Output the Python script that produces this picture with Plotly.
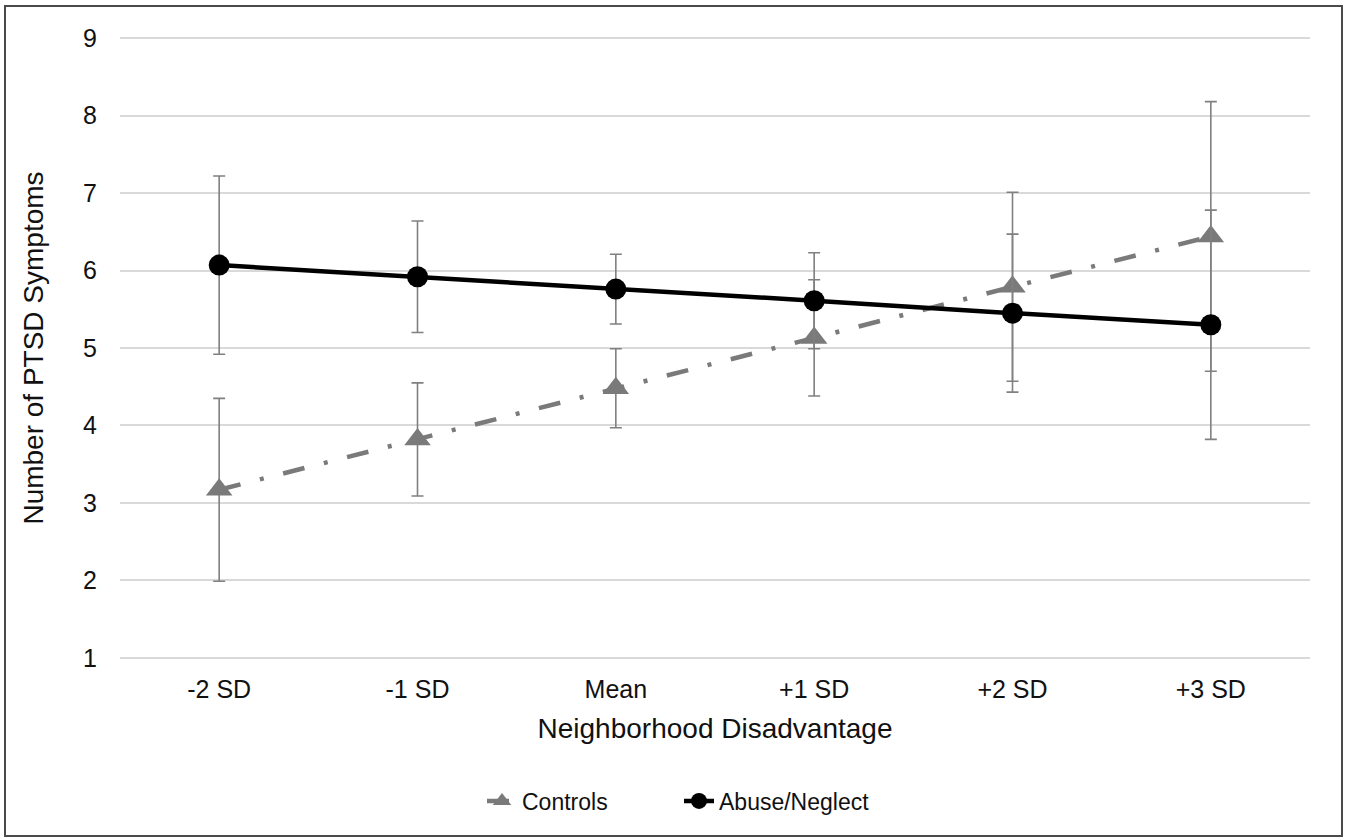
import plotly.graph_objects as go

categories = ["-2 SD", "-1 SD", "Mean", "+1 SD", "+2 SD", "+3 SD"]
controls = [3.17, 3.82, 4.48, 5.13, 5.79, 6.44]
controls_err = [1.18, 0.73, 0.51, 0.75, 1.22, 1.74]
abuse = [6.07, 5.92, 5.76, 5.61, 5.45, 5.30]
abuse_err = [1.15, 0.72, 0.45, 0.62, 1.02, 1.48]
y_ticks = [1, 2, 3, 4, 5, 6, 7, 8, 9]

FONT = "Liberation Sans, Arial, sans-serif"
PLOT_L, PLOT_R, PLOT_T, PLOT_B = 120, 1310, 35, 661
PW, PH = PLOT_R - PLOT_L, PLOT_B - PLOT_T

fig = go.Figure()
fig.add_trace(go.Scatter(
    x=categories, y=controls, name="Controls", mode="lines+markers",
    line=dict(color="#7a7a7a", width=4.5, dash="22px,20px,4px,20px"),
    marker=dict(symbol="triangle-up", size=23, color="#7a7a7a"),
    error_y=dict(type="data", array=controls_err, visible=True,
                 color="#808080", thickness=1.6, width=6),
))
fig.add_trace(go.Scatter(
    x=categories, y=abuse, name="Abuse/Neglect", mode="lines+markers",
    line=dict(color="#000000", width=4.5),
    marker=dict(symbol="circle", size=21, color="#000000"),
    error_y=dict(type="data", array=abuse_err, visible=True,
                 color="#808080", thickness=1.6, width=6),
))

fig.update_layout(
    width=1350, height=840,
    margin=dict(l=PLOT_L, r=1350 - PLOT_R, t=PLOT_T, b=840 - PLOT_B),
    paper_bgcolor="white", plot_bgcolor="white",
    font=dict(family=FONT, size=25, color="#111111"),
    showlegend=True,
    legend=dict(orientation="h", x=(482 - PLOT_L) / PW, xanchor="left",
                y=(PLOT_B - 801) / PH, yanchor="middle",
                font=dict(size=23), traceorder="normal", entrywidth=152, entrywidthmode="pixels"),
    xaxis=dict(
        title=dict(text="Neighborhood Disadvantage", font=dict(size=28), standoff=16),
        type="category", range=[-0.5, 5.5], showgrid=False, showline=False,
        ticks="", ticklabelstandoff=11, zeroline=False,
    ),
    yaxis=dict(
        title=dict(text="Number of PTSD Symptoms", font=dict(size=28), standoff=31),
        range=[0.96, 9.04], tickvals=y_ticks, showgrid=True, gridcolor="#d9d9d9", gridwidth=1.5,
        showline=False, ticks="", ticklabelstandoff=22, zeroline=False,
    ),
    shapes=[dict(type="rect", xref="paper", yref="paper",
                 x0=(5 - PLOT_L) / PW, x1=(1342 - PLOT_L) / PW,
                 y0=(PLOT_B - 836) / PH, y1=(PLOT_B - 6) / PH,
                 line=dict(color="#4a4a4a", width=2), fillcolor="rgba(0,0,0,0)",
                 layer="below")],
)

fig.write_html("out.html", config={"displayModeBar": False},
               post_script="document.body.style.margin='0';document.body.style.overflow='hidden';")
